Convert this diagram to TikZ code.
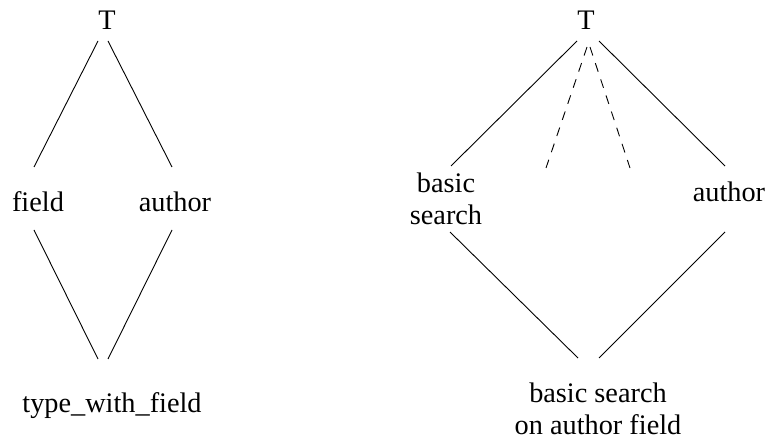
\documentclass[tikz,border=0pt]{standalone}
\usepackage{fontspec}
\setmainfont{Liberation Serif}
\newfontfamily\lblface{Liberation Serif}
\begin{document}
\begin{tikzpicture}[x=1bp,y=-1bp,
  lbl/.style={inner sep=0pt,font=\lblface\fontsize{28.3bp}{31.5bp}\selectfont},
  lblbase/.style={lbl,anchor=base},
  lbltop/.style={lbl,anchor=north,align=center},
  edge/.style={line width=0.9bp},
  dedge/.style={edge,dash pattern=on 9bp off 8bp}]
\useasboundingbox (0,0) rectangle (768,439);

% left lattice
\node[lblbase] (t1) at (107,30) {T};
\node[lblbase] (fld) at (38,212) {field};
\node[lblbase] (au1) at (175,212) {author};
\node[lblbase] (twf) at (112,412) {type\_with\_field};

\coordinate (t1l) at (98,41);   \coordinate (t1r) at (108,41);
\coordinate (fldt) at (34,167); \coordinate (fldb) at (34,230);
\coordinate (au1t) at (172,167);\coordinate (au1b) at (172,230);
\coordinate (twfl) at (98,359); \coordinate (twfr) at (108,359);

\draw[edge] (t1l) -- (fldt);
\draw[edge] (t1r) -- (au1t);
\draw[edge] (fldb) -- (twfl);
\draw[edge] (au1b) -- (twfr);

% right lattice
\node[lblbase] (t2) at (586,30) {T};
\node[lbltop] (bs) at (446,173) {basic\\search};
\node[lblbase] (au2) at (729,202) {author};
\node[lbltop] (bsa) at (598,383) {basic search\\on author field};

\coordinate (t2l) at (577,41);  \coordinate (t2r) at (599,41);
\coordinate (t2dl) at (587,47); \coordinate (t2dr) at (590,47);
\coordinate (dl) at (546,168);  \coordinate (dr) at (630,168);
\coordinate (bst) at (451,166); \coordinate (bsb) at (450,232);
\coordinate (au2t) at (725,166);\coordinate (au2b) at (725,232);
\coordinate (bsal) at (578,358);\coordinate (bsar) at (599,358);

\draw[edge] (t2l) -- (bst);
\draw[dedge] (t2dl) -- (dl);
\draw[dedge] (t2dr) -- (dr);
\draw[edge] (t2r) -- (au2t);
\draw[edge] (bsb) -- (bsal);
\draw[edge] (au2b) -- (bsar);
\end{tikzpicture}
\end{document}
